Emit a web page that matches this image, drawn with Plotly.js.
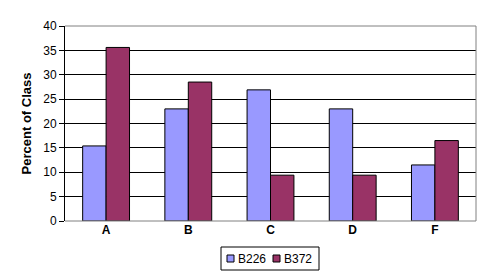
<!DOCTYPE html>
<html>
<head>
<meta charset="utf-8">
<script src="https://cdn.plot.ly/plotly-3.0.1.min.js"></script>
<style>html,body{margin:0;padding:0;background:#fff;}#chart{width:491px;height:275px;}</style>
</head>
<body>
<div id="chart"></div>
<script>
var categories = ["A", "B", "C", "D", "F"];
var b226 = [15.4, 23, 26.9, 23, 11.5];
var b372 = [35.6, 28.5, 9.4, 9.4, 16.5];
var yTicks = [0, 5, 10, 15, 20, 25, 30, 35, 40];
var seriesNames = ["B226", "B372"];
var seriesColors = ["#9999FF", "#993366"];

var traces = [
  {type: "bar", name: seriesNames[0], x: categories, y: b226,
   marker: {color: seriesColors[0], line: {color: "#000000", width: 1}}},
  {type: "bar", name: seriesNames[1], x: categories, y: b372,
   marker: {color: seriesColors[1], line: {color: "#000000", width: 1}}}
];

// plot area in pixels: left 65, right 476, top 26, bottom 221
var L = 65, R = 476, T = 26, B = 221;
function px(x) { return (x - L) / (R - L); }
function py(y) { return (B - y) / (B - T); }

var shapes = [
  {type: "line", xref: "paper", yref: "paper", x0: 0, x1: 1, y0: 1, y1: 1, line: {color: "#808080", width: 1}},
  {type: "line", xref: "paper", yref: "paper", x0: 1, x1: 1, y0: 0, y1: 1, line: {color: "#808080", width: 1}},
  {type: "line", xref: "paper", yref: "paper", x0: 0, x1: 1, y0: 0, y1: 0, line: {color: "#808080", width: 1}},
  // legend box
  {type: "rect", xref: "paper", yref: "paper", x0: px(221), x1: px(319), y0: py(247), y1: py(270),
   line: {color: "#000", width: 1}, fillcolor: "#fff"},
  {type: "rect", xref: "paper", yref: "paper", x0: px(227), x1: px(234), y0: py(255), y1: py(262),
   line: {color: "#000", width: 1}, fillcolor: seriesColors[0]},
  {type: "rect", xref: "paper", yref: "paper", x0: px(273), x1: px(280), y0: py(255), y1: py(262),
   line: {color: "#000", width: 1}, fillcolor: seriesColors[1]}
];

var annotations = [
  {xref: "paper", yref: "paper", x: px(236), y: py(258.5), xanchor: "left", yanchor: "middle",
   text: seriesNames[0], showarrow: false, font: {size: 12}},
  {xref: "paper", yref: "paper", x: px(282), y: py(258.5), xanchor: "left", yanchor: "middle",
   text: seriesNames[1], showarrow: false, font: {size: 12}}
];

var layout = {
  width: 491, height: 275,
  margin: {l: L, r: 491 - R, t: T, b: 275 - B, pad: 0, autoexpand: false},
  paper_bgcolor: "#ffffff", plot_bgcolor: "#ffffff",
  font: {family: "Liberation Sans, Arial, sans-serif", size: 12, color: "#000"},
  barmode: "group", bargap: 0.43, bargroupgap: 0,
  showlegend: false,
  xaxis: {type: "category", showgrid: false, zeroline: false, showline: false,
          ticks: "", tickfont: {size: 12, weight: "bold"}},
  yaxis: {range: [0, 40], tickvals: yTicks, showgrid: true, gridcolor: "#000", gridwidth: 1,
          zeroline: false, showline: true, linecolor: "#000", linewidth: 1,
          ticks: "outside", ticklen: 5, tickcolor: "#000", tickfont: {size: 12},
          title: {text: "Percent of Class", standoff: 8, font: {size: 13, weight: "bold"}}},
  shapes: shapes,
  annotations: annotations
};

Plotly.newPlot("chart", traces, layout, {displayModeBar: false, staticPlot: true});
</script>
</body>
</html>
